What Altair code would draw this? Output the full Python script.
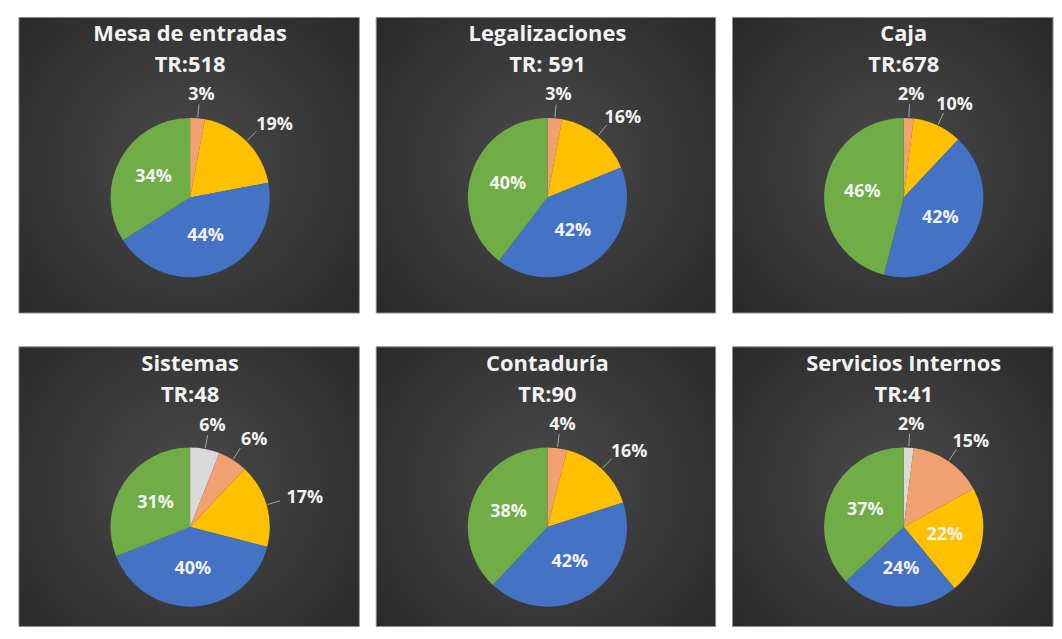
import altair as alt
import pandas as pd

# ---- data ----
titles = ["Mesa de entradas", "Legalizaciones", "Caja", "Sistemas", "Contaduría", "Servicios Internos"]
tr_labels = ["TR:518", "TR: 591", "TR:678", "TR:48", "TR:90", "TR:41"]
categories = ["Categoría 1", "Categoría 2", "Categoría 3", "Categoría 4", "Categoría 5"]
colors = ["#d9d9d9", "#f1a170", "#ffc000", "#4472c4", "#70ad47"]

mesa = [0, 3, 19, 44, 34]
legalizaciones = [0, 3, 16, 42, 40]
caja = [0, 2, 10, 42, 46]
sistemas = [6, 6, 17, 40, 31]
contaduria = [0, 4, 16, 42, 38]
servicios = [2, 15, 22, 24, 37]
series = [mesa, legalizaciones, caja, sistemas, contaduria, servicios]

# ---- layout ----
PANEL_W = [342, 341, 322]
PANEL_H = [297, 281]
CX, CY, R = 172, 181, 80
FONT = "Open Sans"
TXT = "#f2f2f2"

gradient = {
    "gradient": "radial",
    "x1": 0.5, "y1": 0.5, "r1": 0.0,
    "x2": 0.5, "y2": 0.5, "r2": 0.72,
    "stops": [
        {"offset": 0.0, "color": "#4b4b4b"},
        {"offset": 1.0, "color": "#262626"},
    ],
}


def panel(i):
    W = PANEL_W[i % 3]
    H = PANEL_H[i // 3]
    df = pd.DataFrame({"cat": categories, "idx": list(range(5)), "pct": series[i]})
    head = alt.Chart(pd.DataFrame({"t": [titles[i]], "tr": [tr_labels[i]]}))

    bg = head.mark_rect(fill=gradient, stroke="#8c8c8c", strokeWidth=1).encode(
        x=alt.value(0), x2=alt.value(W), y=alt.value(0), y2=alt.value(H)
    )
    t1 = head.mark_text(font=FONT, fontSize=22, fontWeight="bold", color=TXT, baseline="middle").encode(
        x=alt.value(CX), y=alt.value(17), text="t:N"
    )
    t2 = head.mark_text(font=FONT, fontSize=22, fontWeight="bold", color=TXT, baseline="middle").encode(
        x=alt.value(CX), y=alt.value(48), text="tr:N"
    )

    base = alt.Chart(df)
    pie = base.mark_arc(radius=R).encode(
        theta=alt.Theta("pct:Q", stack=True),
        color=alt.Color("cat:N", scale=alt.Scale(domain=categories, range=colors), legend=None),
        order=alt.Order("idx:Q"),
        x=alt.value(CX),
        y=alt.value(CY),
    )

    geo = (
        base.transform_filter("datum.pct > 0")
        .transform_window(cum="sum(pct)", sort=[alt.SortField("idx", order="ascending")], frame=[None, 0])
        .transform_joinaggregate(total="sum(pct)")
        .transform_calculate(
            mid="(datum.cum - datum.pct / 2) / datum.total * 2 * PI",
            inside="datum.pct >= 20",
            lbl="datum.pct + '%'",
        )
        .transform_calculate(s="sin(datum.mid)", c="cos(datum.mid)")
        .transform_calculate(
            lx=f"datum.inside ? {CX} + 42 * datum.s : {CX} + {R + 14} * datum.s + 26 * datum.s",
            ly=f"datum.inside ? {CY} - 42 * datum.c : {CY} - {R + 14} * datum.c - 9 * datum.c",
            ax=f"{CX} + {R + 1} * datum.s",
            ay=f"{CY} - {R + 1} * datum.c",
            bx=f"{CX} + {R + 14} * datum.s",
            by=f"{CY} - {R + 14} * datum.c",
        )
    )

    leaders = geo.transform_filter("!datum.inside").mark_rule(color="#a6a6a6", strokeWidth=1).encode(
        x=alt.X("ax:Q", scale=None, axis=None),
        y=alt.Y("ay:Q", scale=None, axis=None),
        x2="bx:Q",
        y2="by:Q",
    )
    labels = geo.mark_text(font=FONT, fontSize=18, fontWeight="bold", color=TXT, baseline="middle", align="center").encode(
        x=alt.X("lx:Q", scale=None, axis=None),
        y=alt.Y("ly:Q", scale=None, axis=None),
        text="lbl:N",
    )

    return alt.layer(bg, pie, leaders, labels, t1, t2).properties(width=W, height=H)


chart = (
    alt.concat(*[panel(i) for i in range(6)], columns=3, spacing={"row": 32, "column": 15})
    .resolve_scale(theta="independent")
    .properties(background="white", padding={"left": 10, "top": 7, "right": 0, "bottom": 0})
    .configure_view(stroke=None)
)

chart.save("out.html", embed_options={"renderer": "svg", "actions": False})
